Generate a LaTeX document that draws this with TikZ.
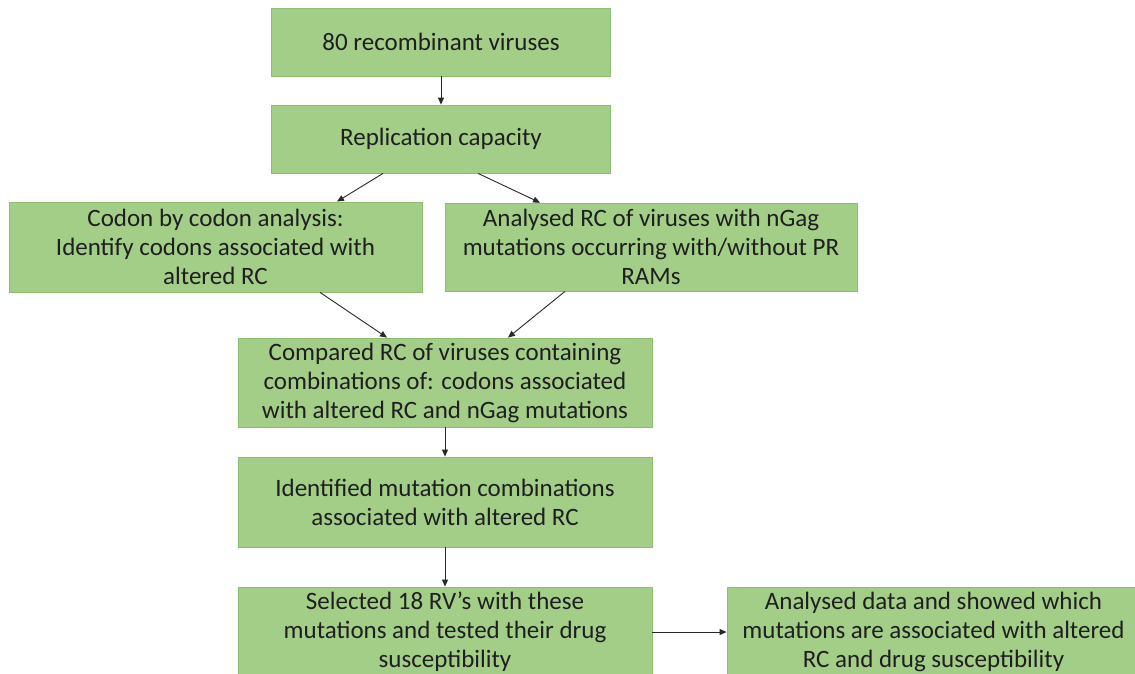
\documentclass[tikz,border=0pt]{standalone}
\usepackage{fontspec}
\setmainfont{Carlito}
\usetikzlibrary{arrows.meta}
\definecolor{boxfill}{RGB}{163,206,136}
\definecolor{boxline}{RGB}{140,190,112}
\definecolor{arr}{RGB}{40,40,40}
\begin{document}
\begin{tikzpicture}[x=1pt,y=1pt,
  box/.style={draw=boxline, line width=0.8pt, fill=boxfill, inner sep=0pt,
    align=center, font=\fontsize{25}{29}\selectfont, text=black!88},
  conn/.style={draw=arr, line width=0.9pt, -{Triangle[length=7pt,width=6pt]}}]
\useasboundingbox (0,0) rectangle (1135,-673);
\node[box, minimum width=339, minimum height=68] (b1) at (441,-42) {80 recombinant viruses};
\node[box, minimum width=339, minimum height=68] (b2) at (441,-139) {Replication capacity};
\node[box, minimum width=413, minimum height=90] (b3) at (215.5,-247) {Codon by codon analysis:\\Identify codons associated with\\altered RC};
\node[box, minimum width=412, minimum height=88] (b4) at (651,-247) {Analysed RC of viruses with nGag\\mutations occurring with/without PR\\RAMs};
\node[box, minimum width=414, minimum height=89] (b5) at (445,-382.5) {Compared RC of viruses containing\\combinations of: codons associated\\with altered RC and nGag mutations};
\node[box, minimum width=414, minimum height=90] (b6) at (445,-502) {Identified mutation combinations\\associated with altered RC};
\node[box, minimum width=414, minimum height=90] (b7) at (445,-632) {Selected 18 RV's with these\\mutations and tested their drug\\susceptibility};
\node[box, minimum width=413, minimum height=90] (b8) at (933.5,-632) {Analysed data and showed which\\mutations are associated with altered\\RC and drug susceptibility};
\draw[conn] (b1.south) -- (b2.north);
\draw[conn] ([xshift=-58pt]b2.south) -- ([xshift=121.5pt]b3.north);
\draw[conn] ([xshift=37pt]b2.south) -- ([xshift=-111pt]b4.north);
\draw[conn] ([xshift=104.5pt]b3.south) -- ([xshift=-58pt]b5.north);
\draw[conn] ([xshift=-86pt]b4.south) -- ([xshift=63pt]b5.north);
\draw[conn] (b5.south) -- (b6.north);
\draw[conn] (b6.south) -- (b7.north);
\draw[conn] (b7.east) -- (b8.west);
\end{tikzpicture}
\end{document}
